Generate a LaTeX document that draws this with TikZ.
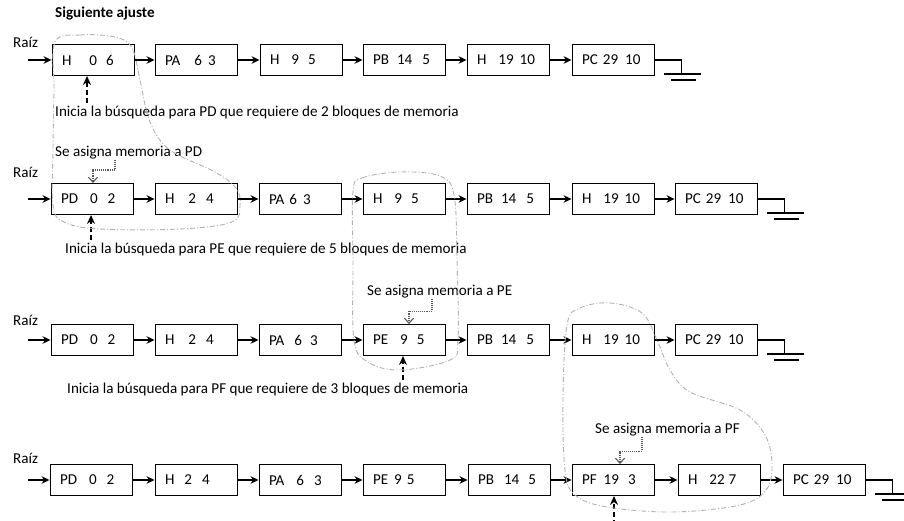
\documentclass[tikz,border=0pt]{standalone}
\usepackage{fontspec}
\setmainfont{Carlito}
\usetikzlibrary{arrows.meta,calc}

\begin{document}
\begin{tikzpicture}[x=1pt, y=-1pt, line join=miter, >=Stealth,
  font=\fontsize{15.1pt}{17pt}\selectfont,
  blk/.style={draw, line width=0.9pt, minimum height=31pt, text width=62pt,
    inner xsep=10pt, inner ysep=0pt, align=left},
  link/.style={line width=1.6pt, -{Stealth[length=8pt,width=7.5pt]}},
  probe/.style={line width=1.6pt, dash pattern=on 5pt off 3pt, -{Stealth[length=9pt,width=8pt]}},
  note/.style={line width=1.1pt, gray!70!black, densely dotted, -{Straight Barb[length=5pt,width=9pt]}},
  trace/.style={line width=0.9pt, gray!60, dash pattern=on 5pt off 2pt on 1pt off 2pt},
  gnd/.style={line width=1.6pt},
  txt/.style={anchor=west, inner sep=0pt}]
  \useasboundingbox (0,0) rectangle (904,521);
  \clip (0,0) rectangle (904,521);

  \node[txt, font=\fontsize{15.1pt}{17pt}\selectfont\bfseries] (title) at (55,13) {Siguiente ajuste};

  % first pass: PD asks for 2 blocks
  \node[txt] (ra) at (13,42) {Raíz};
  \foreach \i/\x/\t in {1/93/{H\hspace{18pt}0\hspace{9pt}6}, 2/196/{PA\hspace{14pt}6\hspace{6pt}3},
      3/301/{H\hspace{12pt}9\hspace{9pt}5}, 4/404/{PB\hspace{8pt}14\hspace{10pt}5},
      5/508/{H\hspace{12pt}19\hspace{6pt}10}, 6/613/{PC 29\hspace{7pt}10}}
    \node[blk] (a\i) at (\x,60) {\t};
  \coordinate (a0) at (28,60);
  \foreach \p/\q in {0/1,1/2,2/3,3/4,4/5,5/6}
    \draw[link] (a\p) -- (a\q);
  \draw[gnd] (a6.east) -- ++(27,0) coordinate (ag) -- ++(0,14);
  \draw[gnd] ($(ag)+(-17,14)$) -- ++(37,0) ($(ag)+(-10,20)$) -- ++(25,0);
  \coordinate (s1) at (87,103);
  \draw[probe] (s1) -- (s1 |- a1.south);
  \node[txt] (q1) at (55,112) {Inicia la búsqueda para PD que requiere de 2 bloques de memoria};

  % second pass: PE asks for 5 blocks
  \node[txt] (rb) at (13,172) {Raíz};
  \foreach \i/\x/\t in {1/92/{PD\hspace{12pt}0\hspace{10pt}2}, 2/196/{H\hspace{14pt}2\hspace{10pt}4},
      3/300/{PA 6\hspace{6pt}3}, 4/404/{H\hspace{12pt}9\hspace{9pt}5},
      5/508/{PB\hspace{8pt}14\hspace{10pt}5}, 6/613/{H\hspace{12pt}19\hspace{6pt}10},
      7/716/{PC 29\hspace{7pt}10}}
    \node[blk] (b\i) at (\x,199) {\t};
  \coordinate (b0) at (28,199);
  \foreach \p/\q in {0/1,1/2,2/3,3/4,4/5,5/6,6/7}
    \draw[link] (b\p) -- (b\q);
  \draw[gnd] (b7.east) -- ++(27,0) coordinate (bg) -- ++(0,14);
  \draw[gnd] ($(bg)+(-17,14)$) -- ++(37,0) ($(bg)+(-10,20)$) -- ++(25,0);
  \node[txt] (m2) at (55,153) {Se asigna memoria a PD};
  \draw[note] ($(m2.south west)+(60,0)$) |- ($(b1.north)+(1,-13)$) -- ($(b1.north)+(1,0)$);
  \coordinate (s2) at (91,240);
  \draw[probe] (s2) -- (s2 |- b1.south);
  \node[txt] (q2) at (65,249) {Inicia la búsqueda para PE que requiere de 5 bloques de memoria};

  % third pass: PF asks for 3 blocks
  \node[txt] (rc) at (13,320) {Raíz};
  \foreach \i/\x/\t in {1/92/{PD\hspace{12pt}0\hspace{10pt}2}, 2/196/{H\hspace{14pt}2\hspace{10pt}4},
      3/300/{PA\hspace{10pt}6\hspace{8pt}3}, 4/404/{PE\hspace{12pt}9\hspace{9pt}5},
      5/508/{PB\hspace{8pt}14\hspace{10pt}5}, 6/613/{H\hspace{12pt}19\hspace{6pt}10},
      7/716/{PC 29\hspace{7pt}10}}
    \node[blk] (c\i) at (\x,340) {\t};
  \coordinate (c0) at (28,340);
  \foreach \p/\q in {0/1,1/2,2/3,3/4,4/5,5/6,6/7}
    \draw[link] (c\p) -- (c\q);
  \draw[gnd] (c7.east) -- ++(27,0) coordinate (cg) -- ++(0,14);
  \draw[gnd] ($(cg)+(-17,14)$) -- ++(37,0) ($(cg)+(-10,20)$) -- ++(25,0);
  \node[txt] (m3) at (367,292) {Se asigna memoria a PE};
  \draw[note] ($(m3.south west)+(65,0)$) |- ($(c4.north)+(5,-13)$) -- ($(c4.north)+(5,0)$);
  \coordinate (s3) at (403,380);
  \draw[probe] (s3) -- (s3 |- c4.south);
  \node[txt] (q3) at (67,389) {Inicia la búsqueda para PF que requiere de 3 bloques de memoria};

  % final list
  \node[txt] (rd) at (13,458) {Raíz};
  \foreach \i/\x/\t in {1/91/{PD\hspace{12pt}0\hspace{10pt}2}, 2/196/{H\hspace{10pt}2\hspace{10pt}4},
      3/300/{PA\hspace{12pt}6\hspace{10pt}3}, 4/404/{PE\hspace{6pt}9\hspace{5pt}5},
      5/509/{PB\hspace{10pt}14\hspace{9pt}5}, 6/613/{PF\hspace{7pt}19\hspace{9pt}3},
      7/719/{H\hspace{12pt}22\hspace{4pt}7}, 8/824/{PC 29\hspace{7pt}10}}
    \node[blk] (d\i) at (\x,480) {\t};
  \coordinate (d0) at (28,480);
  \foreach \p/\q in {0/1,1/2,2/3,3/4,4/5,5/6,6/7,7/8}
    \draw[link] (d\p) -- (d\q);
  \draw[gnd] (d8.east) -- ++(27,0) coordinate (dg) -- ++(0,14);
  \draw[gnd] ($(dg)+(-17,14)$) -- ++(37,0) ($(dg)+(-10,20)$) -- ++(25,0);
  \node[txt] (m4) at (595,430) {Se asigna memoria a PF};
  \draw[note] ($(m4.south west)+(47,0)$) |- ($(d6.north)+(7,-13)$) -- ($(d6.north)+(7,0)$);
  \coordinate (s4) at (614,525);
  \draw[probe] (s4) -- (s4 |- d6.south);

  % free blocks that were scanned
  \draw[trace] plot[smooth cycle, tension=0.6] coordinates {(55,42) (80,35) (115,37) (132,48)
    (140,80) (150,122) (170,150) (215,172) (236,188) (240,205) (232,222) (180,229) (100,229)
    (64,222) (53,205) (53,150) (54,90)};
  \draw[trace] plot[smooth cycle, tension=0.6] coordinates {(353,192) (362,178) (400,172)
    (440,176) (454,195) (457,260) (458,340) (450,360) (400,370) (368,362) (354,340) (353,260)};
  \draw[trace] plot[smooth cycle, tension=0.6] coordinates {(567,325) (580,308) (610,303)
    (642,313) (657,340) (670,370) (690,392) (740,410) (765,435) (772,465) (766,490) (740,505)
    (673,512) (607,507) (575,495) (565,470) (563,400)};
\end{tikzpicture}
\end{document}
